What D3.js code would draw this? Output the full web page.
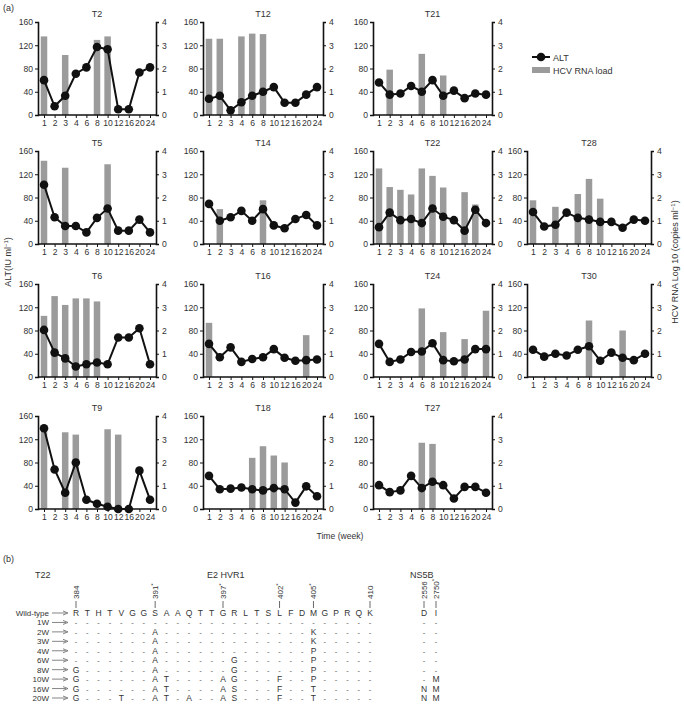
<!DOCTYPE html>
<html><head><meta charset="utf-8">
<script src="https://cdn.jsdelivr.net/npm/d3@7"></script>
<style>
body{margin:0;background:#fff;}
svg{display:block;font-family:"Liberation Sans",Arial,sans-serif;}
</style></head>
<body><svg id="c" width="684" height="709"></svg>
<script>
// ---------- DATA ----------
const weeks = ["1","2","3","4","6","8","10","12","16","20","24"];
const panelNames = ["T2","T12","T21","T5","T14","T22","T28","T6","T16","T24","T30","T9","T18","T27"];
// ALT (IU/ml)
const altT2  = [60,15,33,71,82,117,113,10,10,73,82];
const altT12 = [28,33,8,22,33,40,48,21,21,35,48];
const altT21 = [56,35,37,50,40,60,33,42,29,37,35];
const altT5  = [102,46,31,31,20,45,61,23,23,42,20];
const altT14 = [69,40,46,57,40,60,32,27,43,50,32];
const altT22 = [29,54,41,43,36,61,47,41,23,59,36];
const altT28 = [55,30,33,54,45,42,38,38,28,42,40];
const altT6  = [81,42,32,18,22,25,22,68,68,84,22];
const altT16 = [57,34,51,26,31,34,48,33,28,29,30];
const altT24 = [57,26,30,43,44,58,29,27,30,48,48];
const altT30 = [47,35,40,37,47,53,28,42,33,29,40];
const altT9  = [139,68,28,80,16,9,4,0,0,66,16];
const altT18 = [57,34,35,37,34,32,36,34,11,39,22];
const altT27 = [41,29,32,57,36,47,41,18,38,38,28];
// HCV RNA load (log10 copies/ml), null = not detected
const rnaT2  = [3.38,null,2.58,null,null,3.23,3.38,null,null,null,null];
const rnaT12 = [3.28,3.28,null,3.38,3.5,3.48,null,null,null,null,null];
const rnaT21 = [null,1.95,null,null,2.63,null,1.7,null,null,null,null];
const rnaT5  = [3.58,null,3.28,null,null,null,3.43,null,null,null,null];
const rnaT14 = [null,1.5,null,null,null,1.88,null,null,null,null,null];
const rnaT22 = [3.25,2.45,2.33,2.13,3.25,2.93,2.43,null,2.23,1.7,null];
const rnaT28 = [1.88,null,1.6,null,2.15,2.8,1.95,null,null,null,null];
const rnaT6  = [2.63,3.48,3.1,3.38,3.38,3.25,null,null,null,null,null];
const rnaT16 = [2.33,null,null,null,null,null,null,null,null,1.8,null];
const rnaT24 = [null,null,null,null,2.95,null,1.93,null,1.63,null,2.85];
const rnaT30 = [null,null,null,null,null,2.43,null,null,2.0,null,null];
const rnaT9  = [3.45,null,3.3,3.2,null,null,3.43,3.2,null,null,null];
const rnaT18 = [null,null,null,null,2.2,2.7,2.3,2.0,null,null,null];
const rnaT27 = [null,null,null,null,2.85,2.8,null,null,null,null,null];
const altTicks = [0,40,80,120,160];
const rnaTicks = [0,1,2,3,4];

// sequence table (b)
const seqPositions = ["384","391*","397*","402*","405*","410","2556","2750*"];
const seqPosIndex  = [0,7,13,18,21,26,27,28];
const wildType = "RTHTVGGSAAQTTGRLTSLFDMGPRQKDI";
const rowLabels = ["1W","2W","3W","4W","6W","8W","10W","16W","20W"];
const rowSeqs = [
  "-----------------------------",
  "-------A-------------K-------",
  "-------A-------------K-------",
  "-------A-------------P-------",
  "-------A------G------P-------",
  "G------A------G------P-------",
  "G------AT----AG---F--P------M",
  "G------AT----AS---F--T-----NM",
  "G---T--AT-A--AS---F--T-----NM"
];

// ---------- DRAW ----------
const svg = d3.select("#c");
const series = {
  T2:[altT2,rnaT2],T12:[altT12,rnaT12],T21:[altT21,rnaT21],T5:[altT5,rnaT5],T14:[altT14,rnaT14],
  T22:[altT22,rnaT22],T28:[altT28,rnaT28],T6:[altT6,rnaT6],T16:[altT16,rnaT16],T24:[altT24,rnaT24],
  T30:[altT30,rnaT30],T9:[altT9,rnaT9],T18:[altT18,rnaT18],T27:[altT27,rnaT27]
};
const slots = [[0,0],[0,1],[0,2],[1,0],[1,1],[1,2],[1,3],[2,0],[2,1],[2,2],[2,3],[3,0],[3,1],[3,2]];
const colX = [38,203,373,527], colW = [118,120,119,124];
const rowY = [22,151,284,416], H = 93;
const txt = "#333";

panelNames.forEach((name,i)=>{
  const [r,c] = slots[i];
  const x0 = colX[c], w = colW[c], y0 = rowY[r];
  const g = svg.append("g").attr("transform",`translate(${x0},${y0})`);
  const x = d3.scalePoint().domain(weeks).range([6, w-6]);
  const yL = d3.scaleLinear().domain([0,160]).range([H,0]);
  const yR = d3.scaleLinear().domain([0,4]).range([H,0]);
  const [alt, rna] = series[name];
  const bw = 6.5;
  g.selectAll("rect.bar").data(weeks.map((k,j)=>({k,v:rna[j]})).filter(d=>d.v!=null))
    .enter().append("rect").attr("fill","#9b9b9b")
    .attr("x",d=>x(d.k)-bw/2).attr("width",bw)
    .attr("y",d=>yR(d.v)).attr("height",d=>H-yR(d.v));
  const ax = (sel)=>{sel.select(".domain").attr("stroke","#111").attr("stroke-width",1.6);
    sel.selectAll(".tick line").attr("stroke","#111").attr("stroke-width",1);
    sel.selectAll("text").attr("fill",txt).attr("font-size","8.6px").attr("font-family","Liberation Sans, Arial, sans-serif");};
  g.append("g").call(d3.axisLeft(yL).tickValues(altTicks).tickSize(3).tickPadding(2)).call(ax);
  g.append("g").attr("transform",`translate(${w},0)`).call(d3.axisRight(yR).tickValues(rnaTicks).tickFormat(d3.format("d")).tickSize(3).tickPadding(3)).call(ax);
  g.append("g").attr("transform",`translate(0,${H})`).call(d3.axisBottom(x).tickSize(3).tickPadding(2).tickSizeOuter(0)).call(ax)
    .select(".domain").attr("d",`M0,0H${w}`);
  const pts = weeks.map((k,j)=>({k,v:alt[j]}));
  g.append("path").datum(pts).attr("fill","none").attr("stroke","#111").attr("stroke-width",2)
    .attr("d",d3.line().x(d=>x(d.k)).y(d=>yL(d.v)));
  g.selectAll("circle").data(pts).enter().append("circle").attr("fill","#111")
    .attr("cx",d=>x(d.k)).attr("cy",d=>yL(d.v)).attr("r",4.3);
  g.append("text").attr("x",w/2).attr("y",-5).attr("text-anchor","middle")
    .attr("font-size","9px").attr("fill",txt).text(name);
});

// legend
const lg = svg.append("g").attr("transform","translate(532,57)");
lg.append("line").attr("x1",0).attr("x2",18).attr("stroke","#111").attr("stroke-width",2);
lg.append("circle").attr("cx",9).attr("r",4.3).attr("fill","#111");
lg.append("text").attr("x",21).attr("y",3.5).attr("font-size","9px").attr("fill",txt).text("ALT");
lg.append("rect").attr("x",0).attr("y",10).attr("width",18).attr("height",6).attr("fill","#9b9b9b");
lg.append("text").attr("x",21).attr("y",17).attr("font-size","9px").attr("fill",txt).text("HCV RNA load");

// axis titles
svg.append("text").attr("x",3).attr("y",11).attr("font-size","9px").attr("fill",txt).text("(a)");
const lt = svg.append("text").attr("transform","translate(11,262) rotate(-90)").attr("text-anchor","middle")
  .attr("font-size","9px").attr("fill",txt);
lt.append("tspan").text("ALT(IU ml");
lt.append("tspan").attr("font-size","6px").attr("dy",-3).text("−1");
lt.append("tspan").attr("dy",3).text(")");
const rt = svg.append("text").attr("transform","translate(678,262) rotate(-90)").attr("text-anchor","middle")
  .attr("font-size","9px").attr("fill",txt);
rt.append("tspan").text("HCV RNA Log 10 (copies ml");
rt.append("tspan").attr("font-size","6px").attr("dy",-3).text("−1");
rt.append("tspan").attr("dy",3).text(")");
svg.append("text").attr("x",340).attr("y",539).attr("text-anchor","middle").attr("font-size","8.6px").attr("fill",txt).text("Time (week)");

// ---------- (b) table ----------
svg.append("text").attr("x",3).attr("y",562).attr("font-size","9px").attr("fill",txt).text("(b)");
svg.append("text").attr("x",35).attr("y",578).attr("font-size","9px").attr("fill",txt).text("T22");
svg.append("text").attr("x",207).attr("y",578).attr("font-size","9px").attr("fill",txt).text("E2 HVR1");
svg.append("text").attr("x",410).attr("y",578).attr("font-size","9px").attr("fill",txt).text("NS5B");

const colIdx = d3.range(wildType.length);
const xs = d3.scaleLinear().domain([0,26]).range([76,370]);
const colXpos = i => i<=26 ? xs(i) : (i===27 ? 424 : 436);
const rowYpos = d3.scaleLinear().domain([0,9]).range([616,701]);

seqPositions.forEach((p,k)=>{
  const cx = colXpos(seqPosIndex[k]);
  svg.append("line").attr("x1",cx).attr("x2",cx).attr("y1",601).attr("y2",608).attr("stroke","#444").attr("stroke-width",0.8);
  const t = svg.append("text").attr("transform",`translate(${cx+3},599) rotate(-90)`)
    .attr("font-size","8px").attr("fill",txt);
  t.append("tspan").text(p.replace("*",""));
  if(p.includes("*")) t.append("tspan").attr("font-size","6px").attr("dy",-3).text("*");
});

const allLabels = ["Wild-type"].concat(rowLabels);
const allSeqs = [wildType].concat(rowSeqs);
allLabels.forEach((lab,r)=>{
  const y = rowYpos(r);
  svg.append("text").attr("x",49).attr("y",y).attr("text-anchor","end").attr("font-size","8px").attr("fill",txt).text(lab);
  svg.append("line").attr("x1",52).attr("x2",66).attr("y1",y-3).attr("y2",y-3).attr("stroke","#666").attr("stroke-width",0.8);
  svg.append("path").attr("d",`M63,${y-5}L68,${y-3}L63,${y-1}`).attr("fill","none").attr("stroke","#666").attr("stroke-width",0.8);
  const s = allSeqs[r];
  colIdx.forEach(i=>{
    const ch = s[i] || "-";
    svg.append("text").attr("x",colXpos(i)).attr("y",y).attr("text-anchor","middle")
      .attr("font-size", ch==="-" ? "7.5px" : "8.5px").attr("fill",ch==="-"?"#555":txt).text(ch);
  });
});
</script></body></html>
